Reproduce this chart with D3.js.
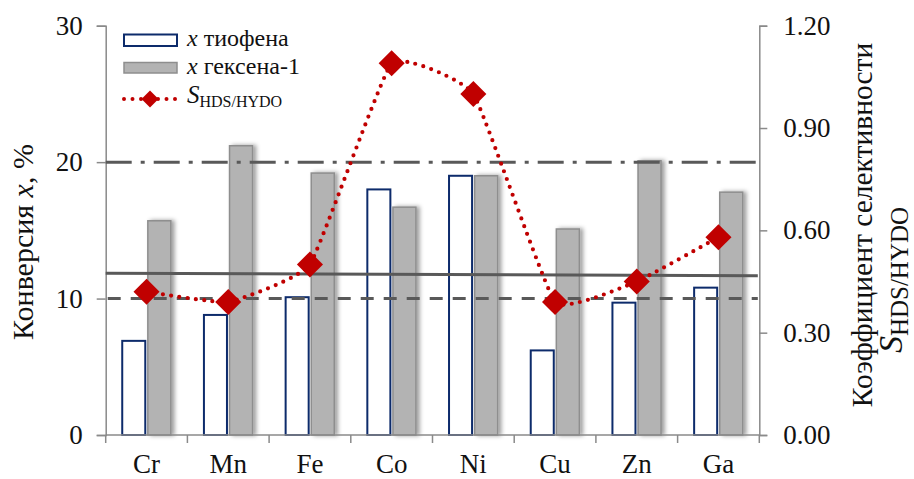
<!DOCTYPE html>
<html>
<head>
<meta charset="utf-8">
<script src="https://cdn.jsdelivr.net/npm/d3@7"></script>
<style>
  html, body { margin: 0; padding: 0; background: #fff; }
  svg { display: block; }
  svg text { font-family: "Liberation Serif", "DejaVu Serif", serif; }
</style>
</head>
<body>
<svg id="chart" width="914" height="479"></svg>
<script>
// Catalyst metals
const categories = ["Cr", "Mn", "Fe", "Co", "Ni", "Cu", "Zn", "Ga"];
// Conversion of thiophene, %
const thiopheneConv = [6.9, 8.8, 10.1, 18.0, 19.0, 6.2, 9.7, 10.8];
// Conversion of hexene-1, %
const hexeneConv = [15.7, 21.2, 19.2, 16.7, 19.0, 15.1, 20.1, 17.8];
// Selectivity factor S HDS/HYDO
const selectivity = [0.42, 0.39, 0.50, 1.09, 1.00, 0.39, 0.45, 0.58];
// Reference levels on the conversion axis
const levelDashDot = 20;
const levelDashed = 10;
const levelSolid = [11.85, 11.68]; // start, end
// Tick labels
const leftTicks = [0, 10, 20, 30];
const rightTicks = [0, 0.3, 0.6, 0.9, 1.2];

const FONT = '"Liberation Serif", "DejaVu Serif", serif';
const svg = d3.select("#chart").attr("font-family", FONT);
const M = { left: 105.7, right: 759.3, top: 25.7, bottom: 435 };

const x = d3.scaleBand().domain(categories).range([M.left, M.right]).paddingInner(0).paddingOuter(0);
const xSub = d3.scaleBand().domain(["t", "h"]).range([0, x.bandwidth()]).paddingInner(0.1).paddingOuter(0.646);
const yL = d3.scaleLinear().domain([0, 30]).range([M.bottom, M.top]);
const yR = d3.scaleLinear().domain([0, 1.2]).range([M.bottom, M.top]);

const defs = svg.append("defs");
const f = defs.append("filter").attr("id", "shadow").attr("x", "-50%").attr("y", "-10%").attr("width", "200%").attr("height", "120%");
f.append("feDropShadow").attr("dx", 3).attr("dy", 0).attr("stdDeviation", 2.2)
  .attr("flood-color", "#000").attr("flood-opacity", 0.38);

const axisColor = "#8a8a8a";
const lineColor = "#595959";
const red = "#c00000";
const navy = "#0d2b6b";

// Bars: hexene-1 (grey, shadowed)
svg.append("g").selectAll("rect").data(hexeneConv).join("rect")
  .attr("x", (d, i) => x(categories[i]) + xSub("h"))
  .attr("y", d => yL(d))
  .attr("width", xSub.bandwidth())
  .attr("height", d => yL(0) - yL(d))
  .attr("fill", "#b3b3b3")
  .attr("stroke", "#8e8e8e")
  .attr("stroke-width", 1.5)
  .attr("filter", "url(#shadow)");

// Bars: thiophene (white, navy outline)
svg.append("g").selectAll("rect").data(thiopheneConv).join("rect")
  .attr("x", (d, i) => x(categories[i]) + xSub("t"))
  .attr("y", d => yL(d))
  .attr("width", xSub.bandwidth())
  .attr("height", d => yL(0) - yL(d))
  .attr("fill", "#fff")
  .attr("stroke", navy)
  .attr("stroke-width", 2);

// Axes
const axL = d3.axisLeft(yL).tickValues(leftTicks).tickSize(9).tickPadding(14).tickFormat(d3.format("d"));
const axR = d3.axisRight(yR).tickValues(rightTicks).tickSize(8).tickPadding(16).tickFormat(d3.format(".2f"));
const axB = d3.axisBottom(x).tickSize(8).tickPadding(11);

function styleAxis(g) {
  g.attr("font-family", FONT).attr("font-size", 27);
  g.select(".domain").attr("stroke", axisColor).attr("stroke-width", 1.5);
  g.selectAll(".tick line").attr("stroke", axisColor).attr("stroke-width", 1.5);
  g.selectAll(".tick text").attr("fill", "#111");
}

svg.append("g").attr("transform", `translate(${M.left},0)`).call(axL).call(styleAxis);
svg.append("g").attr("transform", `translate(${M.right},0)`).call(axR).call(styleAxis);
const gB = svg.append("g").attr("transform", `translate(0,${M.bottom})`).call(axB).call(styleAxis);
gB.select(".domain").attr("d", `M${M.left},0H${M.right}`);
// category separators instead of centred ticks
gB.selectAll(".tick line").attr("x1", -x.bandwidth() / 2).attr("x2", -x.bandwidth() / 2);
gB.append("line").attr("x1", M.right).attr("x2", M.right).attr("y1", 0).attr("y2", 8)
  .attr("stroke", axisColor).attr("stroke-width", 1.5);

// Reference levels
const xEnd = M.right - 1.5;
svg.append("line").attr("x1", M.left).attr("x2", xEnd)
  .attr("y1", yL(levelDashDot)).attr("y2", yL(levelDashDot))
  .attr("stroke", lineColor).attr("stroke-width", 3).attr("stroke-dasharray", "26 9 4 9");
svg.append("line").attr("x1", M.left).attr("x2", xEnd)
  .attr("y1", yL(levelSolid[0])).attr("y2", yL(levelSolid[1]))
  .attr("stroke", lineColor).attr("stroke-width", 3);
svg.append("line").attr("x1", M.left + 2).attr("x2", xEnd)
  .attr("y1", yL(levelDashed)).attr("y2", yL(levelDashed))
  .attr("stroke", lineColor).attr("stroke-width", 3).attr("stroke-dasharray", "13 10");

// Selectivity curve
const cx = i => x(categories[i]) + x.bandwidth() / 2;
const line = d3.line().x((d, i) => cx(i)).y(d => yR(d)).curve(d3.curveCardinal.tension(0.65));
svg.append("path").datum(selectivity).attr("d", line)
  .attr("fill", "none").attr("stroke", red).attr("stroke-width", 4.2)
  .attr("stroke-linecap", "round").attr("stroke-dasharray", "0 8.3");

const diamond = d3.symbol().type(d3.symbolSquare).size(340);
svg.append("g").selectAll("path").data(selectivity).join("path")
  .attr("d", diamond)
  .attr("transform", (d, i) => `translate(${cx(i)},${yR(d)}) rotate(45)`)
  .attr("fill", red);

// Axis titles
svg.append("text").attr("transform", "translate(33,242) rotate(-90)")
  .attr("text-anchor", "middle").attr("font-size", 30).attr("fill", "#111")
  .call(t => {
    t.append("tspan").text("Конверсия ");
    t.append("tspan").attr("font-style", "italic").text("x");
    t.append("tspan").text(", %");
  });

svg.append("text").attr("transform", "translate(872,225) rotate(-90)")
  .attr("text-anchor", "middle").attr("font-size", 29.5).attr("fill", "#111")
  .text("Коэффициент селективности");
svg.append("text").attr("transform", "translate(902,280) rotate(-90)")
  .attr("text-anchor", "middle").attr("font-size", 34).attr("fill", "#111")
  .call(t => {
    t.append("tspan").attr("font-style", "italic").text("S");
    t.append("tspan").attr("font-size", 25).attr("dy", 6).text("HDS/HYDO");
  });

// Legend
const lg = svg.append("g");
lg.append("rect").attr("x", 124).attr("y", 34.5).attr("width", 53).attr("height", 11.5)
  .attr("fill", "#fff").attr("stroke", navy).attr("stroke-width", 2);
lg.append("rect").attr("x", 124).attr("y", 62.5).attr("width", 53).attr("height", 10.5)
  .attr("fill", "#b3b3b3").attr("stroke", "#8e8e8e").attr("stroke-width", 1.5);
lg.append("line").attr("x1", 124).attr("x2", 178).attr("y1", 99).attr("y2", 99)
  .attr("stroke", red).attr("stroke-width", 4).attr("stroke-linecap", "round").attr("stroke-dasharray", "0 8.5");
lg.append("path").attr("d", d3.symbol().type(d3.symbolSquare).size(145))
  .attr("transform", "translate(150,99) rotate(45)").attr("fill", red);

const legendText = [
  { y: 46, label: " тиофена" },
  { y: 74, label: " гексена-1" }
];
legendText.forEach(r => {
  const t = lg.append("text").attr("x", 187).attr("y", r.y).attr("font-size", 24).attr("fill", "#111");
  t.append("tspan").attr("font-style", "italic").text("x");
  t.append("tspan").text(r.label);
});
const ts = lg.append("text").attr("x", 187).attr("y", 103).attr("font-size", 25).attr("fill", "#111");
ts.append("tspan").attr("font-style", "italic").text("S");
ts.append("tspan").attr("font-size", 16).attr("dy", 4).text("HDS/HYDO");
</script>
</body>
</html>
